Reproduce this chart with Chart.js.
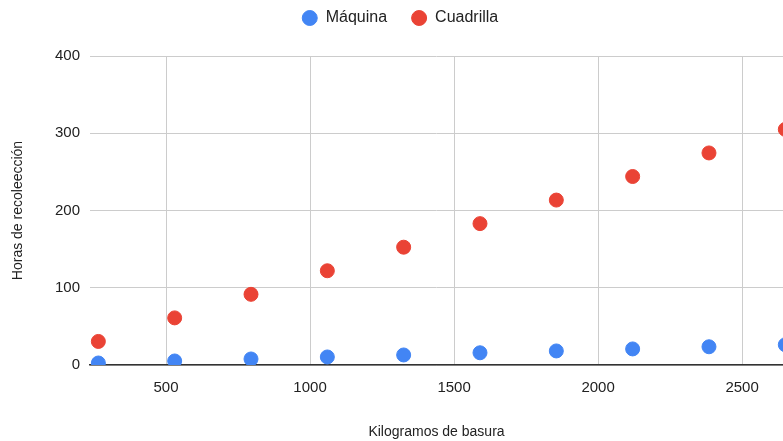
<!DOCTYPE html>
<html>
<head>
<meta charset="utf-8">
<script src="https://cdn.jsdelivr.net/npm/chart.js@4/dist/chart.umd.min.js"></script>
<style>
  html, body { margin: 0; padding: 0; background: #fff; }
  #wrap { width: 783px; height: 441px; }
</style>
</head>
<body>
<div id="wrap"><canvas id="chart"></canvas></div>
<script>
const kilos = [265, 530, 795, 1060, 1325, 1590, 1855, 2120, 2385, 2650];
const maquina = [2.6, 5.2, 7.8, 10.4, 13, 15.8, 18.2, 20.8, 23.6, 26.2];
const cuadrilla = [30.5, 61, 91.5, 122, 152.5, 183, 213.5, 244, 274.5, 305];
const xTicks = [500, 1000, 1500, 2000, 2500];
const yTicks = [0, 100, 200, 300, 400];

const blue = "#4285F4";
const red = "#EA4335";
const family = "'Liberation Sans', Arial, sans-serif";
const font = { family: family, size: 14 };
const tickFont = { family: family, size: 15 };
const legendFont = { family: family, size: 16 };

const toPoints = (ys) => kilos.map((x, i) => ({ x: x, y: ys[i] }));

// legend box gets a fixed height so the plot starts where the original does
const legendHeight = {
  id: "legendHeight",
  beforeInit(chart) {
    const fit = chart.legend.fit;
    chart.legend.fit = function () {
      fit.bind(chart.legend)();
      this.height = 70;
    };
  },
};

new Chart(document.getElementById("chart").getContext("2d"), {
  type: "scatter",
  data: {
    datasets: [
      {
        label: "Máquina",
        data: toPoints(maquina),
        backgroundColor: blue,
        borderColor: blue,
        pointRadius: 7,
        pointHoverRadius: 7,
      },
      {
        label: "Cuadrilla",
        data: toPoints(cuadrilla),
        backgroundColor: red,
        borderColor: red,
        pointRadius: 7,
        pointHoverRadius: 7,
      },
    ],
  },
  options: {
    responsive: true,
    maintainAspectRatio: false,
    animation: false,
    layout: { autoPadding: false, padding: { top: -14, right: 0, bottom: 0, left: 17 } },
    plugins: {
      tooltip: { enabled: false },
      legend: {
        position: "top",
        labels: {
          usePointStyle: true,
          pointStyle: "circle",
          boxWidth: 16,
          boxHeight: 10.6,
          padding: 24,
          color: "#222",
          font: legendFont,
        },
      },
    },
    scales: {
      x: {
        type: "linear",
        min: 236,
        max: 2642,
        afterBuildTicks: (axis) => {
          axis.ticks = xTicks.map((v) => ({ value: v }));
        },
        afterFit: (axis) => {
          axis.height = 76;
          axis.paddingRight = 0;
          axis.paddingLeft = 0;
        },
        ticks: {
          color: "#222",
          font: tickFont,
          padding: 14,
          callback: (v) => String(v),
        },
        grid: { color: "#cccccc", lineWidth: 1, drawTicks: false },
        border: { display: true, color: "#333", width: 1.5 },
        title: {
          display: true,
          text: "Kilogramos de basura",
          color: "#222",
          font: font,
          padding: { top: 30, bottom: 0 },
        },
      },
      y: {
        min: 0,
        max: 400,
        afterBuildTicks: (axis) => {
          axis.ticks = yTicks.map((v) => ({ value: v }));
        },
        afterFit: (axis) => {
          axis.width = 73;
        },
        ticks: {
          color: "#222",
          font: tickFont,
          padding: 10,
          callback: (v) => String(v),
        },
        grid: { color: "#cccccc", lineWidth: 1, drawTicks: false },
        border: { display: false },
        title: {
          display: true,
          text: "Horas de recoleección",
          color: "#222",
          font: font,
          padding: { top: -7, bottom: 0 },
        },
      },
    },
  },
  plugins: [legendHeight],
});
</script>
</body>
</html>
